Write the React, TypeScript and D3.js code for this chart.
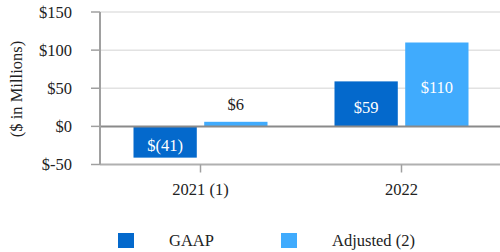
import * as d3 from "d3";

const categories = ["2021 (1)", "2022"];
const seriesNames = ["GAAP", "Adjusted (2)"];
const gaap = [-41, 59];
const adjusted = [6, 110];
const valueLabels = [["$(41)", "$59"], ["$6", "$110"]];
const yTicks = [-50, 0, 50, 100, 150];
const colors = ["#0469cc", "#40abfd"];

export default function App() {
  const width = 500;
  const height = 252;
  const marginLeft = 100;
  const font = "Times New Roman, Liberation Serif, DejaVu Serif, serif";

  const x = d3.scaleBand<string>().domain(categories).range([marginLeft, 502]).paddingInner(0).paddingOuter(0);
  const x1 = d3.scaleBand<string>().domain(seriesNames).range([0, 134]).paddingInner(0.105);
  const y = d3.scaleLinear().domain([-50, 150]).range([164.5, 12]);

  const series = [gaap, adjusted];
  const fmt = (v: number) => (v < 0 ? "$-" + Math.abs(v) : "$" + v);

  return (
    <svg width={width} height={height} style={{ position: "absolute", left: 0, top: 0 }}>
      <g style={{ fontFamily: font }}>
        {/* grid */}
        {yTicks.filter((t) => t !== 0 && t !== -50).map((t) => (
          <line key={t} x1={marginLeft} x2={width} y1={y(t)} y2={y(t)} stroke="#e2e2e2" strokeWidth={1.5} />
        ))}
        {/* y ticks + labels */}
        {yTicks.map((t) => (
          <g key={t}>
            <line x1={91} x2={marginLeft} y1={y(t)} y2={y(t)} stroke="#a0a0a0" strokeWidth={1.5} />
            <text x={72} y={y(t)} dy="0.35em" textAnchor="end" fontSize={16.5} fill="#222">
              {fmt(t)}
            </text>
          </g>
        ))}
        <text transform={`translate(22,${89}) rotate(-90)`} textAnchor="middle" fontSize={16.5} fill="#222">
          ($ in Millions)
        </text>
        {/* bars */}
        {categories.map((c, i) => {
          const gx = x(c)! + x.bandwidth() / 2 - 67;
          return series.map((s, j) => {
            const v = s[i];
            const bx = gx + x1(seriesNames[j])!;
            const top = y(Math.max(0, v));
            const h = Math.abs(y(v) - y(0));
            const small = h < 20;
            return (
              <g key={c + j}>
                <rect x={bx} y={top} width={x1.bandwidth()} height={h} fill={colors[j]} />
                <text
                  x={bx + x1.bandwidth() / 2}
                  y={small ? top - 12 : top + h / 2 + 3}
                  dy={small ? 0 : "0.35em"}
                  textAnchor="middle"
                  fontSize={16.5}
                  fill={small ? "#222" : "#fff"}
                >
                  {valueLabels[j][i]}
                </text>
              </g>
            );
          });
        })}
        {/* axes */}
        <line x1={marginLeft} x2={width} y1={y(0)} y2={y(0)} stroke="#8a8a8a" strokeWidth={2} />
        <line x1={marginLeft} x2={width} y1={y(-50)} y2={y(-50)} stroke="#b0b0b0" strokeWidth={2} />
        <line x1={marginLeft} x2={marginLeft} y1={y(150)} y2={y(-50)} stroke="#a0a0a0" strokeWidth={2} />
        {categories.map((c) => {
          const cx = x(c)! + x.bandwidth() / 2;
          return (
            <g key={c}>
              <line x1={cx} x2={cx} y1={y(-50)} y2={y(-50) + 8} stroke="#a0a0a0" strokeWidth={1.5} />
              <text x={cx} y={195} textAnchor="middle" fontSize={16.5} fill="#222">
                {c}
              </text>
            </g>
          );
        })}
        {/* legend */}
        {seriesNames.map((n, j) => {
          const lx = j === 0 ? 118 : 281;
          return (
            <g key={n}>
              <rect x={lx} y={233} width={16} height={15} fill={colors[j]} />
              <text x={lx + 51} y={246} fontSize={16.5} fill="#222">
                {n}
              </text>
            </g>
          );
        })}
      </g>
    </svg>
  );
}
